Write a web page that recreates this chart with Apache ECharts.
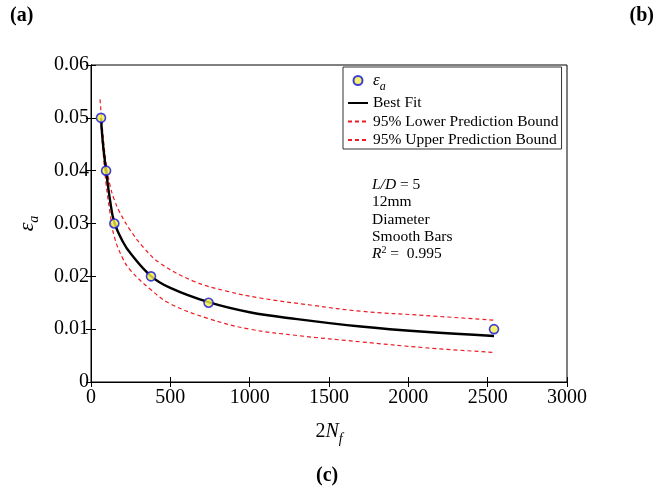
<!DOCTYPE html>
<html><head><meta charset="utf-8">
<script src="https://cdn.jsdelivr.net/npm/echarts@6/dist/echarts.min.js"></script>
<style>html,body{margin:0;padding:0;background:#fff}#c{width:660px;height:493px}</style>
</head><body><div id="c"></div>
<script>
// data
const pointN = [63, 95, 147, 378, 741, 2540];
const pointEps = [0.05, 0.04, 0.03, 0.02, 0.015, 0.01];
const curveN = [63, 75, 95, 120, 147, 200, 250, 376, 500, 741, 1000, 1300, 1700, 2100, 2540];
const bestFit = [0.0500, 0.0452, 0.0400, 0.0344, 0.0302, 0.0266, 0.0243, 0.0201, 0.0178, 0.0151, 0.0132, 0.0119, 0.0105, 0.0095, 0.0087];
const upperN = [57, 75, 95, 120, 147, 183, 246, 330, 435, 645, 855, 1065, 1400, 1700, 2100, 2540];
const upperBound = [0.0535, 0.0470, 0.0415, 0.0372, 0.0345, 0.0320, 0.0288, 0.0255, 0.0225, 0.0191, 0.0172, 0.0159, 0.0145, 0.0134, 0.0126, 0.0117];
const lowerBound = [0.0485, 0.0440, 0.0375, 0.0320, 0.0275, 0.0234, 0.0211, 0.0175, 0.0148, 0.0120, 0.0100, 0.0088, 0.0076, 0.0065, 0.0056];
const xTicks = [0, 500, 1000, 1500, 2000, 2500, 3000];
const yTicks = [0, 0.01, 0.02, 0.03, 0.04, 0.05, 0.06];

const F = 'Liberation Serif, Times New Roman, serif';
const zip = (a, b) => a.map((v, i) => [v, b[i]]);
const chart = echarts.init(document.getElementById('c'), null, {renderer: 'canvas'});
const axisCommon = {
  axisLine: {show: true, lineStyle: {color: '#000', width: 1}},
  axisTick: {show: true, inside: true, length: 5, lineStyle: {color: '#000'}},
  splitLine: {show: false}
};
const hideSym = {opacity: 0};
chart.setOption({
  animation: false,
  backgroundColor: '#fff',
  grid: {left: 91, right: 93, top: 65, bottom: 111, show: true, borderColor: '#000', borderWidth: 1, backgroundColor: 'transparent'},
  xAxis: [
    Object.assign({type: 'value', min: xTicks[0], max: xTicks[xTicks.length - 1], interval: 500, position: 'bottom',
      name: '{n|2}{i|N}{s|f}', nameLocation: 'middle', nameGap: 36,
      nameTextStyle: {rich: {
        n: {fontFamily: F, fontSize: 20, color: '#000'},
        i: {fontFamily: F, fontSize: 20, fontStyle: 'italic', color: '#000'},
        s: {fontFamily: F, fontSize: 14, fontStyle: 'italic', color: '#000', padding: [14, 0, 0, 0]}
      }},
      axisLabel: {fontFamily: F, fontSize: 20, color: '#000', margin: 6, formatter: v => String(v)}}, axisCommon),
    Object.assign({type: 'value', min: xTicks[0], max: xTicks[xTicks.length - 1], interval: 500, position: 'top',
      axisLabel: {show: false}}, axisCommon)
  ],
  yAxis: [
    Object.assign({type: 'value', min: yTicks[0], max: yTicks[yTicks.length - 1], interval: 0.01, position: 'left',
      name: '{e|ε}{s|a}', nameLocation: 'middle', nameGap: 50, nameRotate: 90,
      nameTextStyle: {rich: {
        e: {fontFamily: F, fontSize: 22, fontStyle: 'italic', color: '#000'},
        s: {fontFamily: F, fontSize: 14, fontStyle: 'italic', color: '#000', padding: [14, 0, 0, 0]}
      }},
      axisLabel: {fontFamily: F, fontSize: 20, color: '#000', margin: 2,
        formatter: v => (v === 0 ? '0' : v.toFixed(2))}}, axisCommon),
    Object.assign({type: 'value', min: yTicks[0], max: yTicks[yTicks.length - 1], interval: 0.01, position: 'right',
      axisLabel: {show: false}}, axisCommon)
  ],
  legend: {
    orient: 'vertical', left: 343, top: 67, itemGap: 2.5, itemWidth: 20, itemHeight: 9,
    backgroundColor: '#fff', borderColor: '#333', borderWidth: 1, padding: [5, 3, 1, 4],
    textStyle: {fontFamily: F, fontSize: 15.5, color: '#000',
      rich: {e: {fontFamily: F, fontSize: 17, fontStyle: 'italic', color: '#000'},
             s: {fontFamily: F, fontSize: 12, fontStyle: 'italic', color: '#000', padding: [12, 0, 0, 0]}}},
    formatter: n => (n === 'eps' ? '{e|ε}{s|a}' : n),
    data: [
      {name: 'eps', icon: 'circle'},
      {name: 'Best Fit', itemStyle: hideSym},
      {name: '95% Lower Prediction Bound', itemStyle: hideSym},
      {name: '95% Upper Prediction Bound', itemStyle: hideSym}
    ]
  },
  graphic: [
    {type: 'text', left: 10, top: 6, style: {text: '(a)', font: 'bold 20px ' + F, fill: '#000'}},
    {type: 'text', right: 6, top: 6, style: {text: '(b)', font: 'bold 20px ' + F, fill: '#000'}},
    {type: 'text', left: 316, top: 466, style: {text: '(c)', font: 'bold 20px ' + F, fill: '#000'}},
    {type: 'text', left: 372, top: 176, style: {
      text: '{i|L/D} = 5\n12mm\nDiameter\nSmooth Bars\n{i|R}{sup|2} =  0.995',
      font: '15.5px ' + F, fill: '#000', lineHeight: 17.4,
      rich: {i: {fontFamily: F, fontSize: 15.5, fontStyle: 'italic', lineHeight: 17.4},
             sup: {fontFamily: F, fontSize: 10, verticalAlign: 'top', lineHeight: 17.4, padding: [0, 0, 6, 0]}}
    }}
  ],
  series: [
    {name: 'eps', type: 'scatter', data: zip(pointN, pointEps), symbol: 'circle', symbolSize: 9, z: 5,
      itemStyle: {color: '#f2f04a', borderColor: '#1010e0', borderWidth: 1.6}},
    {name: 'Best Fit', type: 'line', data: zip(curveN, bestFit), smooth: 0.4, symbol: 'none', z: 3,
      lineStyle: {color: '#000', width: 2.4}, itemStyle: {color: '#000'}},
    {name: '95% Lower Prediction Bound', type: 'line', data: zip(curveN, lowerBound), smooth: 0.4, symbol: 'none', z: 2,
      lineStyle: {color: '#ee1c24', width: 1.2, type: [4, 3]}, itemStyle: {color: '#ee1c24'}},
    {name: '95% Upper Prediction Bound', type: 'line', data: zip(upperN, upperBound), smooth: 0.4, symbol: 'none', z: 2,
      lineStyle: {color: '#ee1c24', width: 1.2, type: [4, 3]}, itemStyle: {color: '#ee1c24'}}
  ]
});
</script></body></html>
